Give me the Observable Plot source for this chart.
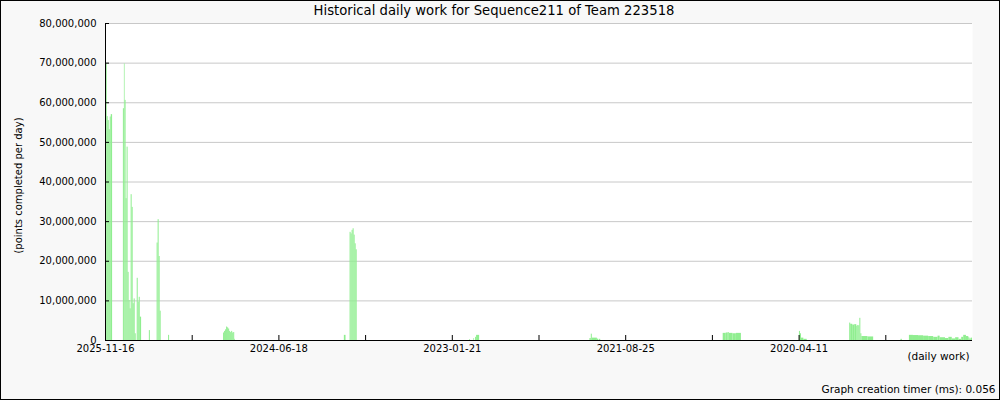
<!DOCTYPE html>
<html>
<head>
<meta charset="utf-8">
<script src="https://cdn.jsdelivr.net/npm/d3@7"></script>
<script src="https://cdn.jsdelivr.net/npm/@observablehq/plot@0.6"></script>
<style>
  html, body { margin: 0; padding: 0; background: #f8f8f8; }
  #wrap { position: relative; width: 1000px; height: 400px; }
  #border { position: absolute; left: 0; top: 0; width: 1000px; height: 400px; box-sizing: border-box; border: 1px solid #000; pointer-events: none; }
</style>
</head>
<body>
<div id="wrap"><div id="chart"></div><div id="border"></div></div>
<script>
// Days counted back from 2025-11-16 (index of daily data point)
const runStart = [2,5,8,11,14,17, 53,56,58,61,64,67,70,73,76,79,82,85,88,94,97,100,103, 130, 153,156,159,162, 187,
  350,353,356,359,362,365,368,371,374,377,380,383, 708,725,728,731,734,737,740,743,
  1079,1092,1097,1100, 1436,1440,1443,1458,1464, 1831,1840,1846,1849,1860,1870,
  2057,2060,2063,2070, 2206,2209,2215,2221,2227,2230,2233,2236,2239,2242,2260,
  2358,2383,2395,2410,2425,2440,2455,2468,2474,2490,2500,2510,2520,2530,2538,2544,2552,2559,2562,2566];
const runEnd = [5,8,11,14,17,21, 56,58,61,64,67,70,73,76,79,82,85,88,91,97,100,103,107, 133, 156,159,162,165, 190,
  353,356,359,362,365,368,371,374,377,380,383,385, 713,728,731,734,737,740,743,746,
  1081,1094,1100,1109, 1440,1443,1458,1462,1468, 1840,1846,1849,1860,1870,1885,
  2060,2063,2070,2080, 2209,2215,2221,2227,2230,2233,2236,2239,2242,2260,2277,
  2362,2395,2410,2425,2440,2455,2468,2474,2490,2500,2510,2520,2530,2538,2544,2552,2559,2562,2566,2570];
const runMillions = [69.8,56.5,55.5,53.2,56.4,57.0, 58.5,69.8,60.6,35.8,48.8,17.2,10.1,8.0,36.8,33.6,9.3,10.5,1.7,15.7,9.7,10.9,5.9, 2.5, 24.6,30.5,21.2,7.4, 1.3,
  1.9,2.3,2.7,3.4,3.2,2.9,2.3,2.0,2.3,1.9,2.0,0.3, 1.3,27.3,26.9,27.8,28.2,26.6,24.4,22.9,
  0.25,0.5,0.8,1.3, 0.5,1.6,0.6,0.35,0.3, 1.8,1.9,2.0,1.8,1.7,1.8,
  2.3,1.7,0.6,0.3, 4.4,4.1,3.9,4.0,3.6,3.8,3.7,5.6,1.7,1.0,0.9,
  0.3,1.3,1.25,1.2,1.1,1.0,0.8,1.1,0.7,0.5,0.8,0.4,0.7,0.3,0.8,1.3,1.0,0.7,0.4,0.6];

const xTickDays = [0,257,514,771,1028,1285,1542,1799,2056,2313];
const xTickLabels = ["2025-11-16","","2024-06-18","","2023-01-21","","2021-08-25","","2020-04-11",""];
const yTicks = [0,10e6,20e6,30e6,40e6,50e6,60e6,70e6,80e6];

const titleText = "Historical daily work for Sequence211 of Team 223518";
const yLabelText = "(points completed per day)";
const xLabelText = "(daily work)";
const footerText = "Graph creation timer (ms): 0.056";

const runs = runStart.map((s, i) => ({from: s, to: runEnd[i], value: runMillions[i] * 1e6}));
const fmt = d3.format(",");
const font = "DejaVu Sans, sans-serif";

const chart = Plot.plot({
  width: 1000,
  height: 400,
  marginLeft: 105,
  marginRight: 28,
  marginTop: 23,
  marginBottom: 60,
  style: {background: "#f8f8f8", fontFamily: font, fontSize: "10px", color: "#000", overflow: "visible"},
  x: {type: "linear", domain: [0, 2570], axis: null},
  y: {domain: [0, 80e6], axis: null},
  marks: [
    Plot.frame({fill: "white", stroke: "none"}),
    Plot.gridY(yTicks, {stroke: "#c8c8c8", strokeOpacity: 1}),
    Plot.rectY(runs, {x1: "from", x2: "to", y: "value", fill: "#90ee90", inset: 0}),
    Plot.axisY(yTicks, {anchor: "left", label: null, tickSize: -4, tickPadding: 13, tickFormat: fmt, stroke: "#000", fill: "#000", fontSize: 10}),
    Plot.axisX(xTickDays, {anchor: "bottom", label: null, tickSize: -5, tickPadding: 9, tickFormat: (d, i) => xTickLabels[i], stroke: "#000", fill: "#000", fontSize: 10}),
    Plot.ruleX([0], {stroke: "#000"}),
    Plot.ruleY([0], {stroke: "#000"}),
    Plot.text([titleText], {text: d => d, frameAnchor: "top", dx: -45, dy: -13, fontSize: 13.2, fill: "#000", lineAnchor: "middle"}),
    Plot.text([yLabelText], {text: d => d, frameAnchor: "left", textAnchor: "middle", lineAnchor: "middle", rotate: -90, dx: -87, dy: 3.5, fontSize: 10, fill: "#000"}),
    Plot.text([xLabelText], {text: d => d, frameAnchor: "bottom-right", textAnchor: "end", dx: -3, dy: 19, fontSize: 10.5, fill: "#000"}),
    Plot.text([footerText], {text: d => d, frameAnchor: "bottom-right", textAnchor: "end", dx: 23, dy: 52.5, fontSize: 10.5, fill: "#000"})
  ]
});
document.getElementById("chart").appendChild(chart);
</script>
</body>
</html>
